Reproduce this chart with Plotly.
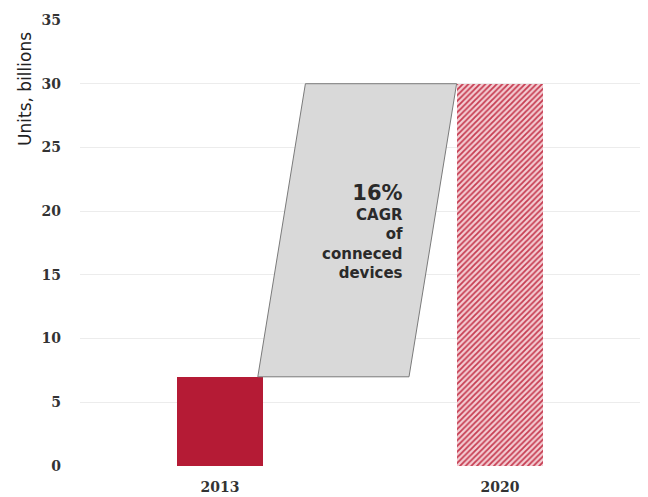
import plotly.graph_objects as go

# Connected devices, billions of units
years = ["2013", "2020"]
units = [7, 30]
cagr_label = "16%"
cagr_lines = ["CAGR", "of", "conneced", "devices"]
y_ticks = [0, 5, 10, 15, 20, 25, 30, 35]

x_pos = [0, 1]
bar_width = 0.31
band_width = 0.54  # horizontal width of the growth band

fig = go.Figure()

# Growth band between the two bars (a slanted parallelogram)
x_bl = x_pos[0] + bar_width / 2 - 0.02
x_tr = x_pos[1] - bar_width / 2
band_x = [x_bl, x_bl + band_width, x_tr, x_tr - band_width, x_bl]
band_y = [units[0], units[0], units[1], units[1], units[0]]
fig.add_trace(go.Scatter(
    x=band_x, y=band_y, mode="lines", fill="toself",
    fillcolor="#d9d9d9", line=dict(color="#7a7a7a", width=1),
    hoverinfo="skip", showlegend=False,
))

# 2013 solid bar
fig.add_trace(go.Bar(
    x=[x_pos[0]], y=[units[0]], width=bar_width,
    marker=dict(color="#b51b35", line=dict(width=0)),
    showlegend=False,
))

# 2020 hatched bar
fig.add_trace(go.Bar(
    x=[x_pos[1]], y=[units[1]], width=bar_width,
    marker=dict(
        color="#f4cdd3",
        line=dict(width=0),
        pattern=dict(shape="/", fgcolor="#c63d52", bgcolor="#f4cdd3",
                     size=4, solidity=0.45, fillmode="replace"),
    ),
    showlegend=False,
))

label_text = (f"<span style='font-size:21px'>{cagr_label}</span><br>"
              + "<br>".join(cagr_lines))
fig.add_annotation(
    x=0.662, y=18.4, xref="x", yref="y", xanchor="right", yanchor="middle",
    text=label_text, showarrow=False, align="right",
    font=dict(family="DejaVu Sans", size=15, color="#2a2a2a", weight="bold"),
)

# Axis title placed near the top of the value axis
fig.add_annotation(
    x=-0.098, y=29.6, xref="paper", yref="y", text="Units, billions",
    textangle=-90, showarrow=False, xanchor="center", yanchor="middle",
    font=dict(family="DejaVu Sans", size=17, color="#222222"),
)

fig.update_layout(
    width=648, height=497,
    margin=dict(l=80, r=8, t=20, b=31),
    plot_bgcolor="white", paper_bgcolor="white",
    bargap=0,
    xaxis=dict(
        range=[-0.5, 1.5], tickvals=x_pos, ticktext=years,
        showgrid=False, zeroline=False, showline=False, ticks="",
        ticklabelstandoff=11, automargin=False,
        tickfont=dict(family="DejaVu Serif", size=14, color="#333333", weight="bold"),
    ),
    yaxis=dict(
        range=[0, 35], tickvals=y_ticks, showgrid=True, gridcolor="#ececec",
        gridwidth=1, zeroline=False, showline=False, ticks="",
        ticklabelstandoff=18, automargin=False,
        tickfont=dict(family="DejaVu Serif", size=14, color="#333333", weight="bold"),
    ),
)

fig.write_html("out.html")
